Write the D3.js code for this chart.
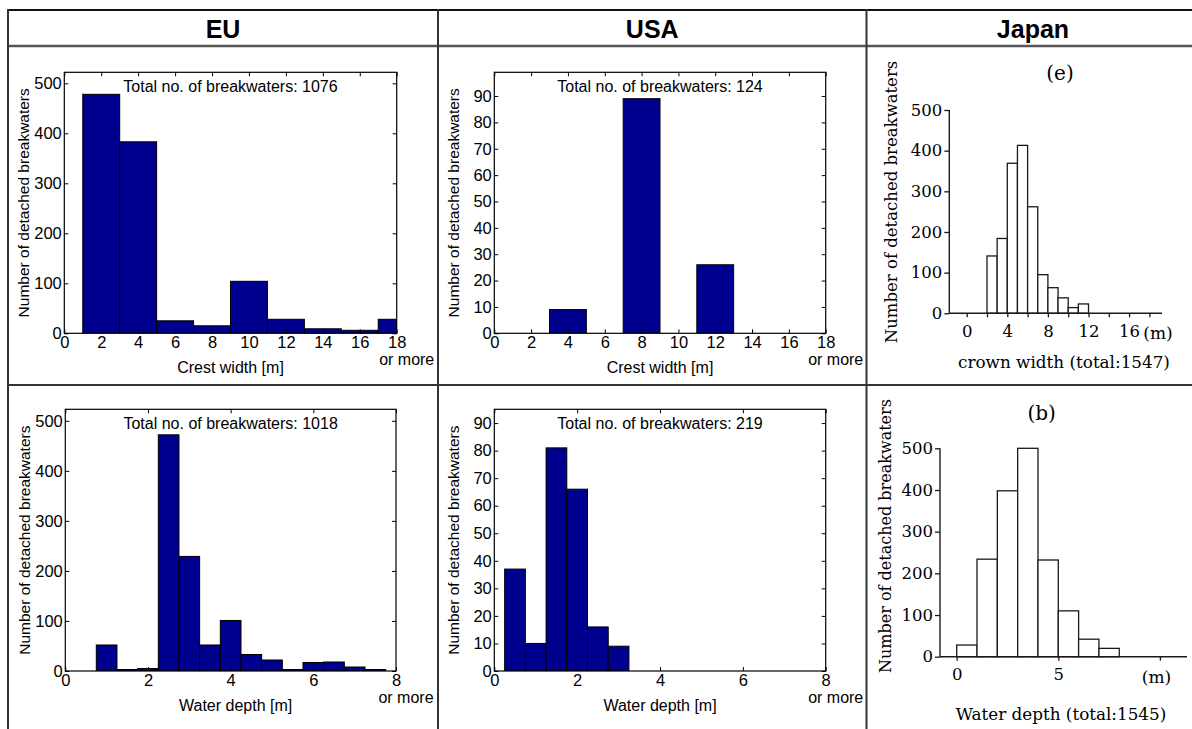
<!DOCTYPE html>
<html>
<head>
<meta charset="utf-8">
<title>Detached breakwaters</title>
<script src="https://cdn.jsdelivr.net/npm/d3@7/dist/d3.min.js"></script>
<style>
  body { margin: 0; background: #fff; }
  .sans { font-family: "Liberation Sans", Arial, Helvetica, sans-serif; }
  .serif { font-family: "DejaVu Serif", "Liberation Serif", serif; }
</style>
</head>
<body>
<svg id="chart" width="1192" height="729"></svg>
<script>
'use strict';

// --- data ---
var columns = ['EU', 'USA', 'Japan'];

var crestCenters = [2, 4, 6, 8, 10, 12, 14, 16, 18];
var euCrestCounts = [478, 383, 25, 15, 104, 28, 9, 6, 28];
var usaCrestCounts = [0, 9, 0, 89, 0, 26, 0, 0, 0];
var crestTicks = [0, 2, 4, 6, 8, 10, 12, 14, 16, 18];

var depthCenters = [0.5, 1, 1.5, 2, 2.5, 3, 3.5, 4, 4.5, 5, 5.5, 6, 6.5, 7, 7.5];
var euDepthCounts = [0, 52, 3, 5, 472, 229, 52, 101, 33, 22, 3, 17, 18, 8, 3];
var usaDepthCounts = [37, 10, 81, 66, 16, 9, 0, 0, 0, 0, 0, 0, 0, 0, 0];
var depthTicks = [0, 2, 4, 6, 8];

// totals as printed on each panel: EU crest, USA crest, EU depth, USA depth
var printedTotals = [1076, 124, 1018, 219];

var euYTicks = [0, 100, 200, 300, 400, 500];
var usaYTicks = [0, 10, 20, 30, 40, 50, 60, 70, 80, 90];

var japanCrownBins = [2, 3, 4, 5, 6, 7, 8, 9, 10, 11];
var japanCrownCounts = [141, 184, 369, 413, 262, 95, 63, 38, 14, 23];
var japanCrownTicks = [0, 2, 4, 6, 8, 10, 12, 14, 16, 18];
var japanCrownLabels = [0, 4, 8, 12, 16];

var japanDepthBins = [0, 1, 2, 3, 4, 5, 6, 7];
var japanDepthCounts = [28, 234, 398, 500, 232, 110, 42, 20];
var japanDepthTicks = [0, 5, 10];
var japanDepthLabels = [0, 5];
var japanYTicks = [0, 100, 200, 300, 400, 500];

var svg = d3.select('#chart');
var barColor = '#00008f';
var lineColor = '#333';
var sansSize = '16px';

function drawTable() {
  var g = svg.append('g').attr('class', 'table');
  var colX = [8, 438, 866.5, 1192];
  g.append('line').attr('x1', colX[0]).attr('x2', 1192).attr('y1', 10).attr('y2', 10)
    .style('stroke', '#111').style('stroke-width', 2.2);
  g.append('line').attr('x1', colX[0]).attr('x2', 1192).attr('y1', 46).attr('y2', 46)
    .style('stroke', '#555').style('stroke-width', 2.4);
  g.append('line').attr('x1', colX[0]).attr('x2', 1192).attr('y1', 385).attr('y2', 385)
    .style('stroke', lineColor).style('stroke-width', 2);
  [colX[0], colX[1], colX[2]].forEach(function(x) {
    g.append('line').attr('x1', x).attr('x2', x).attr('y1', 9).attr('y2', 729)
      .style('stroke', lineColor).style('stroke-width', 2);
  });
  g.selectAll('text.head').data(columns).enter().append('text')
    .attr('class', 'head sans')
    .attr('x', function(d, i) { return i === 2 ? 1033 : (colX[i] + colX[i + 1]) / 2; })
    .attr('y', 29)
    .attr('dy', '0.35em')
    .attr('text-anchor', 'middle')
    .style('font-weight', 'bold')
    .style('font-size', '25px')
    .text(function(d) { return d; });
}

// MATLAB style boxed histogram
function drawMatlabPanel(p) {
  var g = svg.append('g').attr('transform', 'translate(' + p.left + ',' + p.top + ')');
  var x = d3.scaleLinear().domain(p.xDomain).range([0, p.width]);
  var y = d3.scaleLinear().domain(p.yDomain).range([p.height, 0]);
  var clipId = 'clip-' + p.id;

  g.append('clipPath').attr('id', clipId).append('rect')
    .attr('width', p.width).attr('height', p.height);

  var bars = p.centers.map(function(c, i) { return {c: c, v: p.counts[i]}; })
    .filter(function(d) { return d.v > 0; });

  g.append('g').attr('clip-path', 'url(#' + clipId + ')')
    .selectAll('rect').data(bars).enter().append('rect')
    .attr('x', function(d) { return x(d.c - p.binWidth / 2); })
    .attr('width', function(d) { return x(d.c + p.binWidth / 2) - x(d.c - p.binWidth / 2); })
    .attr('y', function(d) { return y(d.v); })
    .attr('height', function(d) { return y(0) - y(d.v); })
    .style('fill', barColor)
    .style('stroke', '#000')
    .style('stroke-width', 1);

  var fmt = d3.format('d');
  var bottom = g.append('g').attr('transform', 'translate(0,' + p.height + ')')
    .call(d3.axisBottom(x).tickValues(p.xTicks).tickSize(-4).tickPadding(3).tickFormat(fmt));
  var top = g.append('g')
    .call(d3.axisTop(x).tickValues(p.xTicks).tickSize(-4).tickFormat(''));
  var left = g.append('g')
    .call(d3.axisLeft(y).tickValues(p.yTicks).tickSize(-4).tickPadding(2.5).tickFormat(fmt));
  var right = g.append('g').attr('transform', 'translate(' + p.width + ',0)')
    .call(d3.axisRight(y).tickValues(p.yTicks).tickSize(-4).tickFormat(''));

  [bottom, top, left, right].forEach(function(ax) {
    ax.select('.domain').remove();
    ax.selectAll('line').style('stroke', '#000').style('stroke-width', 1);
    ax.selectAll('text').attr('class', 'sans').style('font-size', '16.5px').style('fill', '#000');
  });

  g.append('rect').attr('width', p.width).attr('height', p.height)
    .style('fill', 'none').style('stroke', '#000').style('stroke-width', 1.2);

  g.append('text').attr('class', 'sans')
    .attr('x', x(p.xDomain[1]) + 10).attr('y', p.height + 26.5).attr('dy', '0.35em')
    .attr('text-anchor', 'middle').style('font-size', sansSize).style('fill', '#000')
    .text('or more');

  g.append('text').attr('class', 'sans')
    .attr('x', p.width / 2 + p.labelShift).attr('y', p.height + 34.5).attr('dy', '0.35em')
    .attr('text-anchor', 'middle').style('font-size', sansSize).style('fill', '#000')
    .text(p.xLabel);

  g.append('text').attr('class', 'sans')
    .attr('x', p.width / 2).attr('y', 14.5).attr('dy', '0.35em')
    .attr('text-anchor', 'middle').style('font-size', sansSize).style('fill', '#000')
    .text('Total no. of breakwaters: ' + p.total);

  g.append('text').attr('class', 'sans')
    .attr('transform', 'translate(' + (-40.5) + ',' + (p.height / 2) + ') rotate(-90)')
    .attr('dy', '0.35em')
    .attr('text-anchor', 'middle').style('font-size', '15.5px').style('fill', '#000')
    .text('Number of detached breakwaters');
}

// scanned Japanese histogram: open bars, L-shaped axes
function drawJapanPanel(p) {
  var g = svg.append('g');
  var x = d3.scaleLinear().domain(p.xDomain).range(p.xRange);
  var y = d3.scaleLinear().domain([0, 500]).range(p.yRange);

  g.selectAll('rect').data(p.bins).enter().append('rect')
    .attr('x', function(d) { return x(d); })
    .attr('width', function(d) { return x(d + 1) - x(d); })
    .attr('y', function(d, i) { return y(p.counts[i]); })
    .attr('height', function(d, i) { return y(0) - y(p.counts[i]); })
    .style('fill', '#fff')
    .style('stroke', '#1a1a1a')
    .style('stroke-width', 1.3);

  var xAxis = g.append('g').attr('transform', 'translate(0,' + y(0) + ')')
    .call(d3.axisBottom(x).tickValues(p.xTicks).tickSize(4).tickPadding(8)
      .tickFormat(function(d) { return p.xLabels.indexOf(d) >= 0 ? d : ''; }));
  var yAxis = g.append('g').attr('transform', 'translate(' + p.axisLeft + ',0)')
    .call(d3.axisLeft(y).tickValues(japanYTicks).tickSize(5).tickPadding(2));

  [xAxis, yAxis].forEach(function(ax) {
    ax.select('.domain').remove();
    ax.selectAll('line').style('stroke', '#1a1a1a').style('stroke-width', 1.3);
    ax.selectAll('text').attr('class', 'serif').style('font-size', '16.5px').style('fill', '#000');
  });

  g.append('line').attr('x1', p.axisLeft).attr('x2', p.axisRight)
    .attr('y1', y(0)).attr('y2', y(0))
    .style('stroke', '#1a1a1a').style('stroke-width', 1.4);
  g.append('line').attr('x1', p.axisLeft).attr('x2', p.axisLeft)
    .attr('y1', y(0)).attr('y2', y(500))
    .style('stroke', '#1a1a1a').style('stroke-width', 1.4);

  g.append('text').attr('class', 'serif')
    .attr('x', p.unitX).attr('y', y(0) + 20).attr('dy', '0.35em')
    .attr('text-anchor', 'middle').style('font-size', '17px').style('fill', '#000')
    .text('(m)');

  g.append('text').attr('class', 'serif')
    .attr('x', p.tag[0]).attr('y', p.tag[1]).attr('dy', '0.35em')
    .attr('text-anchor', 'middle').style('font-size', '20px').style('fill', '#000')
    .text(p.tagText);

  g.append('text').attr('class', 'serif')
    .attr('x', p.caption[0]).attr('y', p.caption[1]).attr('dy', '0.35em')
    .attr('text-anchor', 'middle').style('font-size', '16.8px').style('fill', '#000')
    .text(p.captionText);

  g.append('text').attr('class', 'serif')
    .attr('transform', 'translate(' + p.yLabel[0] + ',' + p.yLabel[1] + ') rotate(-90)')
    .attr('dy', '0.35em')
    .attr('text-anchor', 'middle').style('font-size', p.yLabelSize).style('fill', '#000')
    .text('Number of detached breakwaters');
}

drawTable();

drawMatlabPanel({id: 'eu-crest', left: 64.3, top: 72.3, width: 332.4, height: 261,
  xDomain: [0, 18], yDomain: [0, 522], centers: crestCenters, counts: euCrestCounts,
  total: printedTotals[0], labelShift: 0,
  binWidth: 2, xTicks: crestTicks, yTicks: euYTicks, xLabel: 'Crest width [m]'});
drawMatlabPanel({id: 'usa-crest', left: 494.3, top: 72.3, width: 331.4, height: 261,
  xDomain: [0, 18], yDomain: [0, 99], centers: crestCenters, counts: usaCrestCounts,
  total: printedTotals[1], labelShift: 0,
  binWidth: 2, xTicks: crestTicks, yTicks: usaYTicks, xLabel: 'Crest width [m]'});
drawMatlabPanel({id: 'eu-depth', left: 65.3, top: 409.3, width: 330.7, height: 261.7,
  xDomain: [0, 8], yDomain: [0, 523], centers: depthCenters, counts: euDepthCounts,
  total: printedTotals[2], labelShift: 5,
  binWidth: 0.5, xTicks: depthTicks, yTicks: euYTicks, xLabel: 'Water depth [m]'});
drawMatlabPanel({id: 'usa-depth', left: 494.3, top: 409.3, width: 331.4, height: 261.7,
  xDomain: [0, 8], yDomain: [0, 95], centers: depthCenters, counts: usaDepthCounts,
  total: printedTotals[3], labelShift: 0,
  binWidth: 0.5, xTicks: depthTicks, yTicks: usaYTicks, xLabel: 'Water depth [m]'});

drawJapanPanel({xDomain: [0, 16], xRange: [966.7, 1129.1], yRange: [313.3, 110],
  axisLeft: 949.3, axisRight: 1162, bins: japanCrownBins, counts: japanCrownCounts,
  xTicks: japanCrownTicks, xLabels: japanCrownLabels, unitX: 1158,
  tag: [1060, 73], tagText: '(e)', caption: [1064, 362], captionText: 'crown width (total:1547)',
  yLabel: [891.5, 202], yLabelSize: '16.5px'});
drawJapanPanel({xDomain: [0, 5], xRange: [956.7, 1058.3], yRange: [656.7, 448.3],
  axisLeft: 940, axisRight: 1187, bins: japanDepthBins, counts: japanDepthCounts,
  xTicks: japanDepthTicks, xLabels: japanDepthLabels, unitX: 1156.5,
  tag: [1041.7, 413], tagText: '(b)', caption: [1061, 714], captionText: 'Water depth (total:1545)',
  yLabel: [885, 536], yLabelSize: '16px'});
</script>
</body>
</html>
